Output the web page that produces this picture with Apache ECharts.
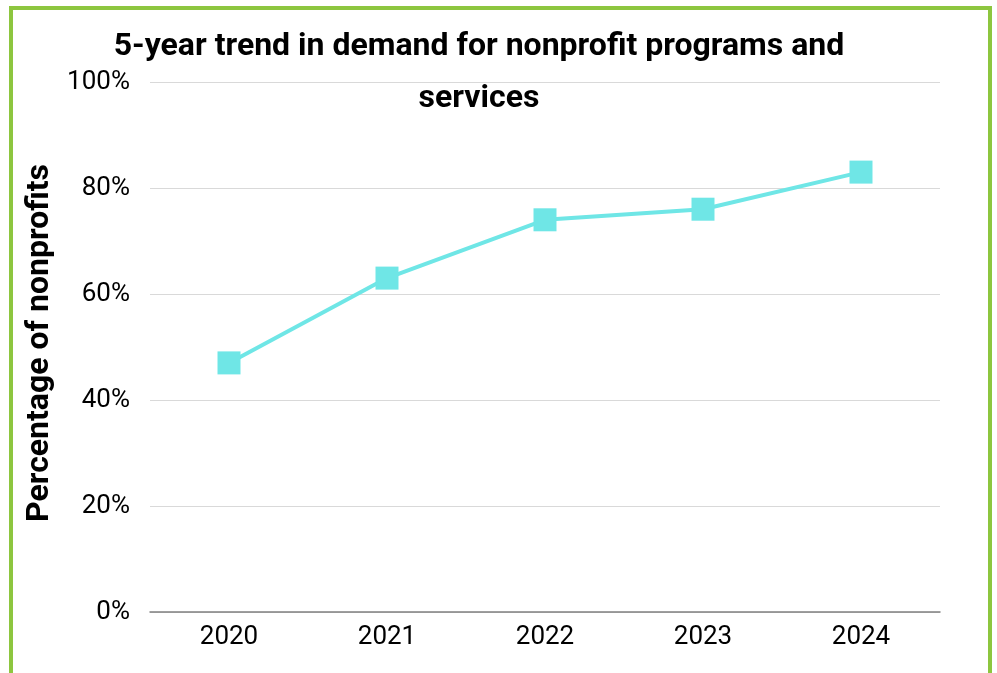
<!DOCTYPE html>
<html>
<head>
<meta charset="utf-8">
<script src="https://cdn.jsdelivr.net/npm/echarts@6/dist/echarts.min.js"></script>
<style>
  html, body { margin: 0; padding: 0; background: #ffffff; }
  #chart { width: 997px; height: 673px; }
</style>
</head>
<body>
<div id="chart"></div>
<script>
// Survey years and share of nonprofits reporting higher demand
const years = ['2020', '2021', '2022', '2023', '2024'];
const demandShare = [47, 63, 74, 76, 83];
const yTicks = [0, 20, 40, 60, 80, 100];

const chart = echarts.init(document.getElementById('chart'), null, { renderer: 'canvas' });

chart.setOption({
  backgroundColor: '#ffffff',
  animation: false,
  textStyle: { fontFamily: 'Roboto' },
  title: {
    text: '5-year trend in demand for nonprofit programs and\nservices',
    left: 474,
    top: 16,
    textAlign: 'center',
    textStyle: {
      fontFamily: 'Roboto',
      fontSize: 32,
      fontWeight: 'bold',
      color: '#000000',
      lineHeight: 52
    }
  },
  graphic: [{
    type: 'rect',
    shape: { x: 11, y: 8, width: 979, height: 720 },
    style: { fill: 'none', stroke: '#8dc63f', lineWidth: 4 },
    silent: true,
    z: 100
  }],
  grid: { left: 150, right: 57, top: 82, bottom: 61, containLabel: false },
  xAxis: {
    type: 'category',
    data: years,
    boundaryGap: true,
    axisLine: { show: true, lineStyle: { color: '#808080', width: 1.5 } },
    axisTick: { show: false },
    axisLabel: { fontSize: 26, color: '#000000', margin: 12, fontFamily: 'Roboto' }
  },
  yAxis: {
    type: 'value',
    min: yTicks[0],
    max: yTicks[yTicks.length - 1],
    interval: 20,
    name: 'Percentage of nonprofits',
    nameLocation: 'middle',
    nameGap: 85,
    nameTextStyle: {
      fontSize: 32, fontWeight: 'bold', color: '#000000', fontFamily: 'Roboto',
      padding: [0, 0, 0, 8]
    },
    axisLine: { show: false },
    axisTick: { show: false },
    axisLabel: { fontSize: 26, color: '#000000', margin: 20, formatter: '{value}%', fontFamily: 'Roboto' },
    splitLine: { lineStyle: { color: '#d9d9d9', width: 1 } }
  },
  series: [{
    type: 'line',
    data: demandShare,
    symbol: 'rect',
    symbolSize: 23,
    itemStyle: { color: '#6fe6e6' },
    lineStyle: { color: '#6fe6e6', width: 4 }
  }]
});
</script>
</body>
</html>
